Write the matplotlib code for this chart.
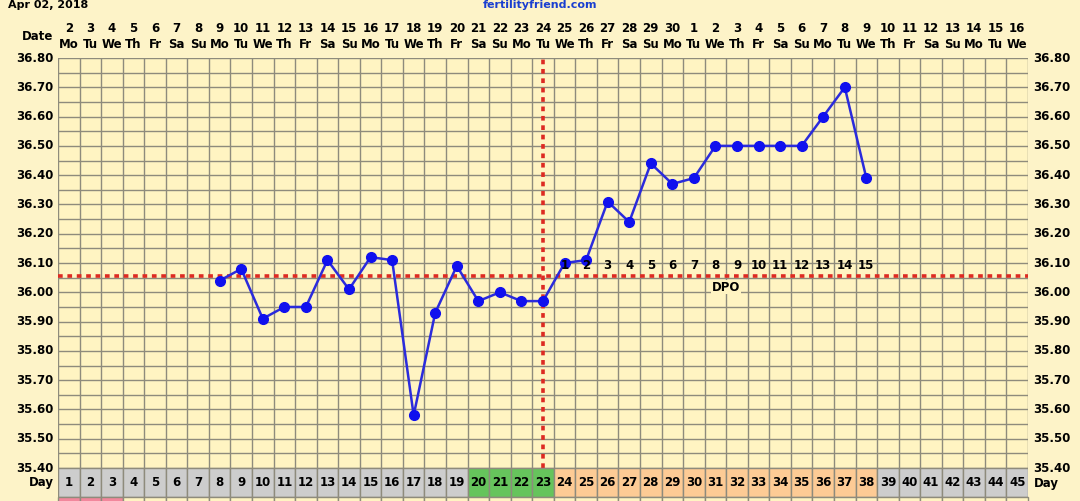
import matplotlib.pyplot as plt
from matplotlib.patches import Rectangle
import datetime as dt

# chart data
days = list(range(1, 46))
temp_days = list(range(8, 39))
temps = [36.04, 36.08, 35.91, 35.95, 35.95, 36.11, 36.01, 36.12, 36.11, 35.58,
         35.93, 36.09, 35.97, 36.00, 35.97, 35.97, 36.10, 36.11, 36.31, 36.24,
         36.44, 36.37, 36.39, 36.50, 36.50, 36.50, 36.50, 36.50, 36.60, 36.70,
         36.39]
coverline = 36.055
ovulation_day = 23
dpo_days = list(range(24, 39))
dpo_labels = [str(i) for i in range(1, 16)]
fertile_days = [20, 21, 22, 23]
period_days = [1, 2, 3]
start = dt.date(2018, 4, 2)
weekdays = ["Mo", "Tu", "We", "Th", "Fr", "Sa", "Su"]
ytick_vals = [35.40 + 0.1 * i for i in range(15)]

bg = "#fdf3c8"
cell = "#fff4c2"
gridc = "#8e8b7c"

fig = plt.figure(figsize=(10.8, 5.01), dpi=100, facecolor=bg)
ax = fig.add_axes([58 / 1080, 0, 970 / 1080, 443 / 501])
ax.set_xlim(0, 45)
ymax = 36.80
ymin = 36.80 - 443 / 292.9
ax.set_ylim(ymin, ymax)
ax.axis("off")


def ty(py):
    # pixel row -> temperature units
    return 36.80 - (py - 58) / 292.9


font = dict(family="DejaVu Sans", fontweight="bold", fontsize=8.5)

# plot area background and grid
ax.add_patch(Rectangle((0, 35.40), 45, 1.40, facecolor=cell, edgecolor="none", zorder=0))
for i in range(29):
    y = 35.40 + 0.05 * i
    ax.plot([0, 45], [y, y], color=gridc, lw=1.0, zorder=1)
for d in range(46):
    ax.plot([d, d], [35.40, 36.80], color=gridc, lw=1.0, zorder=1)

# day row
row_top = 35.40
row_bot = ty(497)
for d in days:
    if d in fertile_days:
        c = "#66c45c"
    elif 24 <= d <= 38:
        c = "#fdcb95"
    else:
        c = "#cdcdcd"
    ax.add_patch(Rectangle((d - 1, row_bot), 1, row_top - row_bot, facecolor=c,
                           edgecolor=gridc, lw=1.0, zorder=5))
    ax.text(d - 0.5, (row_top + row_bot) / 2, str(d), ha="center", va="center",
            zorder=6, **font)
    c2 = "#f2879c" if d in period_days else cell
    ax.add_patch(Rectangle((d - 1, ymin - 0.05), 1, row_bot - ymin + 0.05,
                           facecolor=c2, edgecolor=gridc, lw=1.0, zorder=5, clip_on=False))

# header dates
for d in days:
    date = start + dt.timedelta(days=d - 1)
    ax.text(d - 0.5, ty(28), str(date.day), ha="center", va="center", clip_on=False, **font)
    ax.text(d - 0.5, ty(44), weekdays[date.weekday()], ha="center", va="center",
            clip_on=False, **font)
ax.text(-0.2, ty(36), "Date", ha="right", va="center", clip_on=False, **font)

# y tick labels both sides
for v in ytick_vals:
    ax.text(-0.2, v, f"{v:.2f}", ha="right", va="center", clip_on=False, **font)
    ax.text(45.25, v, f"{v:.2f}", ha="left", va="center", clip_on=False, **font)
ax.text(-0.2, ty(482), "Day", ha="right", va="center", clip_on=False, **font)
ax.text(45.25, ty(484), "Day", ha="left", va="center", clip_on=False, **font)

# coverline and ovulation line
ax.plot([0, 45], [coverline, coverline], color="#dd2a22", lw=2.6,
        linestyle=(0, (1.3, 1.3)), zorder=3)
ax.plot([ovulation_day - 0.5, ovulation_day - 0.5], [35.40, 36.80], color="#dd2a22",
        lw=2.6, linestyle=(0, (1.3, 1.3)), zorder=3)

# temperatures
ax.plot([d - 0.5 for d in temp_days], temps, color="#2b2bdc", lw=1.8, marker="o",
        markersize=7, markerfacecolor="#1010ee", markeredgecolor="#1010ee", zorder=4)

# DPO labels
for d, s in zip(dpo_days, dpo_labels):
    ax.text(d - 0.5, ty(265), s, ha="center", va="center", zorder=6, **font)
ax.text(31, ty(287), "DPO", ha="center", va="center", zorder=6,
        bbox=dict(facecolor=cell, edgecolor="none", pad=0.5), **font)

# titles at the top edge
fig.text(8 / 1080, 1.0, "Apr 02, 2018", ha="left", va="top",
         fontsize=8, fontweight="bold", family="DejaVu Sans")
fig.text(540 / 1080, 1.0, "fertilityfriend.com", ha="center", va="top",
         fontsize=8, fontweight="bold", color="#1a3fd0", family="DejaVu Sans")

fig.savefig("out.png", dpi=100, facecolor=bg)
